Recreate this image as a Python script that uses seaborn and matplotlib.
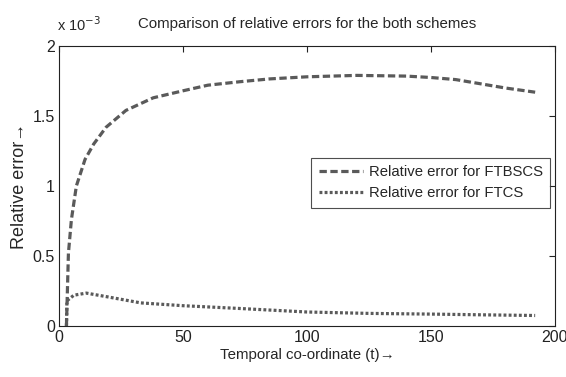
import numpy as np
import pandas as pd
import matplotlib
matplotlib.use("Agg")
import matplotlib.pyplot as plt
import seaborn as sns
from matplotlib.ticker import FormatStrFormatter

# Data (relative error in units of 1e-3)
t_ftbscs = [3, 3.8, 5, 7, 10.5, 14, 19, 27, 38, 50, 60, 73, 85, 100, 120, 140, 150, 160, 170, 180, 192]
e_ftbscs = [0.0, 0.52, 0.76, 1.0, 1.19, 1.30, 1.42, 1.54, 1.63, 1.68, 1.72, 1.745, 1.765, 1.78, 1.79, 1.785, 1.775, 1.76, 1.73, 1.70, 1.67]
t_ftcs = [3, 3.2, 6, 11, 19, 33, 50, 73, 100, 125, 150, 170, 192]
e_ftcs = [0.0, 0.18, 0.22, 0.235, 0.21, 0.165, 0.145, 0.125, 0.1, 0.09, 0.085, 0.08, 0.075]
labels = ["Relative error for FTBSCS", "Relative error for FTCS"]

df1 = pd.DataFrame({"t": t_ftbscs, "e": e_ftbscs, "s": labels[0]})
df2 = pd.DataFrame({"t": t_ftcs, "e": e_ftcs, "s": labels[1]})

sns.set_style("white")
plt.rcParams["font.family"] = ["Liberation Sans", "DejaVu Sans"]

fig = plt.figure(figsize=(5.66, 3.77), dpi=100)
ax = fig.add_axes([59/566, 1-326/377, 496/566, 280/377])

col = "#5a5a5a"
sns.lineplot(data=df1, x="t", y="e", ax=ax, color=col, lw=2.3, label=labels[0])
sns.lineplot(data=df2, x="t", y="e", ax=ax, color=col, lw=2.3, label=labels[1])
ax.lines[0].set_dashes([2.3, 1.1])
ax.lines[1].set_dashes([0.9, 0.7])

ax.set_xlim(0, 200)
ax.set_ylim(0, 2)
ax.set_xticks([0, 50, 100, 150, 200])
ax.set_yticks([0, 0.5, 1, 1.5, 2])
ax.yaxis.set_major_formatter(FormatStrFormatter("%g"))
ax.tick_params(direction="in", length=4, width=0.8, labelsize=11.5, top=True, right=True,
               colors="#222222", pad=3)
for s in ax.spines.values():
    s.set_color("#222222")
    s.set_linewidth(0.8)

ax.set_xlabel("Temporal co-ordinate (t)\u2192", fontsize=10.8, labelpad=2)
ax.set_ylabel("Relative error\u2192", fontsize=13, labelpad=3)
ax.set_title("Comparison of relative errors for the both schemes", fontsize=10.8, pad=13)
fig.text(57/566, 1-31/377, "x 10$^{-3}$", fontsize=10.5, va="baseline", ha="left")

leg = ax.legend(loc="upper right", bbox_to_anchor=(0.99, 0.60), fontsize=10.7,
                frameon=True, fancybox=False, edgecolor="#222222", handlelength=3.0,
                handletextpad=0.35, borderpad=0.5, labelspacing=0.45, borderaxespad=0)
leg.get_frame().set_linewidth(0.8)

fig.savefig("out.png", dpi=100, facecolor="white")
